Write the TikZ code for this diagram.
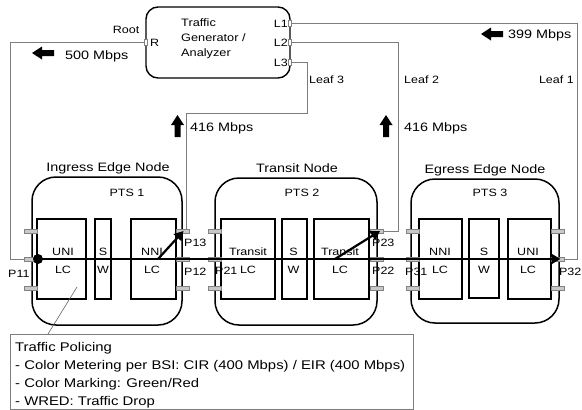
\documentclass[tikz,border=0pt]{standalone}
\usepackage{fontspec}
\setmainfont{Liberation Sans}[FakeStretch=1.18]
\usetikzlibrary{arrows.meta,calc}
\definecolor{linegray}{RGB}{125,125,125}
\definecolor{portfill}{RGB}{200,200,200}
\definecolor{portdraw}{RGB}{130,130,130}
\begin{document}
\begin{tikzpicture}[x=1pt,y=-1pt,
  bigtxt/.style={font=\fontsize{12.2}{14}\selectfont, inner sep=0},
  smalltxt/.style={font=\fontsize{10.6}{12.5}\selectfont, inner sep=0},
  genbox/.style={draw, line width=1.4pt, rounded corners=12pt, minimum width=144pt, minimum height=71pt, inner sep=0},
  ptsbox/.style={draw, line width=1.5pt, rounded corners=24pt, inner sep=0},
  lcbox/.style={draw, line width=1.3pt, minimum height=80pt, inner sep=0},
  port/.style={draw=portdraw, fill=portfill, line width=0.6pt, minimum width=13pt, minimum height=4pt, inner sep=0},
  gport/.style={draw=portdraw, fill=white, line width=0.6pt, minimum width=3.5pt, minimum height=6pt, inner sep=0},
  conn/.style={draw=linegray, line width=0.8pt},
  flow/.style={line width=2.2pt, -{Triangle[length=9pt,width=10pt]}},
  blockarr/.pic={\fill (0,-3) -- (12,-3) -- (12,-6.5) -- (22,0) -- (12,6.5) -- (12,3) -- (0,3) -- cycle;}
]
\useasboundingbox (0,0) rectangle (582,410);
\fill[white] (0,0) rectangle (582,410);

% Traffic generator / analyzer
\node[genbox] (gen) at (218,42.5) {};
\node[smalltxt, anchor=base west, align=left, font=\fontsize{10.8}{15}\selectfont] (gentxt) at (181,56.7) {Traffic\\Generator /\\Analyzer};
\node[smalltxt, anchor=base west] (gRlab) at (150,46) {R};
\node[smalltxt, anchor=base east] (gL1lab) at (288,27.3) {L1};
\node[smalltxt, anchor=base east] (gL2lab) at (288,46.7) {L2};
\node[smalltxt, anchor=base east] (gL3lab) at (288,66.7) {L3};
\node[smalltxt, anchor=base east] (rootlab) at (139.5,33.5) {Root};
\node[gport] (gR) at (146,42) {};
\node[gport] (gL1) at (290,23) {};
\node[gport] (gL2) at (290,42) {};
\node[gport] (gL3) at (290,62) {};

% PTS nodes
\node[ptsbox, minimum width=150pt, minimum height=148pt] (ing) at (107,251) {};
\node[ptsbox, minimum width=162pt, minimum height=147pt] (tra) at (296,251.5) {};
\node[ptsbox, minimum width=148pt, minimum height=144pt] (egr) at (485,251) {};

\node[bigtxt, anchor=base] (ingtitle) at (108,171) {Ingress Edge Node};
\node[bigtxt, anchor=base] (tratitle) at (297,172) {Transit Node};
\node[bigtxt, anchor=base] (egrtitle) at (485,173) {Egress Edge Node};
\node[smalltxt, anchor=base] (pts1) at (127,196) {PTS 1};
\node[smalltxt, anchor=base] (pts2) at (302,196) {PTS 2};
\node[smalltxt, anchor=base] (pts3) at (490,196) {PTS 3};

% line cards and switches
\node[lcbox, minimum width=49pt] (iUNI) at (61.5,259) {};
\node[lcbox, minimum width=16pt] (iSW) at (103,259) {};
\node[lcbox, minimum width=45pt] (iNNI) at (153.5,259) {};
\node[lcbox, minimum width=54pt] (tLC1) at (248,259) {};
\node[lcbox, minimum width=25pt] (tSW) at (294.5,259) {};
\node[lcbox, minimum width=55pt] (tLC2) at (341.5,259) {};
\node[lcbox, minimum width=43pt] (eNNI) at (440.5,259) {};
\node[lcbox, minimum width=30pt, minimum height=79pt] (eSW) at (484,258.5) {};
\node[lcbox, minimum width=43pt] (eUNI) at (529.5,259) {};

\node[smalltxt, anchor=base] (iUNIa) at (63,255) {UNI};
\node[smalltxt, anchor=base] (iUNIb) at (63,273) {LC};
\node[smalltxt, anchor=base] (iSWa) at (103,255) {S};
\node[smalltxt, anchor=base] (iSWb) at (103,273) {W};
\node[smalltxt, anchor=base] (iNNIa) at (152,255) {NNI};
\node[smalltxt, anchor=base] (iNNIb) at (152,273) {LC};
\node[smalltxt, anchor=base] (tLC1a) at (248,255) {Transit};
\node[smalltxt, anchor=base] (tLC1b) at (248,273) {LC};
\node[smalltxt, anchor=base] (tSWa) at (293.5,255) {S};
\node[smalltxt, anchor=base] (tSWb) at (293.5,273) {W};
\node[smalltxt, anchor=base] (tLC2a) at (340,255) {Transit};
\node[smalltxt, anchor=base] (tLC2b) at (340,273) {LC};
\node[smalltxt, anchor=base] (eNNIa) at (440,255) {NNI};
\node[smalltxt, anchor=base] (eNNIb) at (440,273) {LC};
\node[smalltxt, anchor=base] (eSWa) at (484,255) {S};
\node[smalltxt, anchor=base] (eSWb) at (484,273) {W};
\node[smalltxt, anchor=base] (eUNIa) at (528,255) {UNI};
\node[smalltxt, anchor=base] (eUNIb) at (528,273) {LC};

% ports
\node[port] (pi1) at (31,231) {};
\node[port] (p11) at (31,259) {};
\node[port] (pi2) at (31,288) {};
\node[port] (p13) at (182.5,231) {};
\node[port] (p12) at (182.5,259) {};
\node[port] (pi3) at (182.5,288) {};
\node[port] (pt1) at (214.5,231) {};
\node[port] (p21) at (214.5,259) {};
\node[port] (pt2) at (214.5,288) {};
\node[port] (p23) at (377,231) {};
\node[port] (p22) at (377,259) {};
\node[port] (pt3) at (377,288) {};
\node[port] (pe1) at (413,231) {};
\node[port] (p31) at (413,259) {};
\node[port] (pe2) at (413,288) {};
\node[port] (pe3) at (557.5,231) {};
\node[port] (p32) at (557.5,259) {};
\node[port] (pe4) at (557.5,288) {};

% port labels
\node[smalltxt, anchor=base west] (lp11) at (8,277.5) {P11};
\node[smalltxt, anchor=base west] (lp13) at (184,246.7) {P13};
\node[smalltxt, anchor=base west] (lp12) at (184,275) {P12};
\node[smalltxt, anchor=base west] (lp21) at (215,274.5) {P21};
\node[smalltxt, anchor=base west] (lp23) at (372,246.7) {P23};
\node[smalltxt, anchor=base west] (lp22) at (372,274.5) {P22};
\node[smalltxt, anchor=base west] (lp31) at (405,275) {P31};
\node[smalltxt, anchor=base east] (lp32) at (581.5,275) {P32};

% connectors to the tester
\coordinate (cR) at (10,42);
\draw[conn] (gR.west) -- (cR) |- (p11.west);
\coordinate (c3a) at (307,113);
\coordinate (c3b) at (186,113);
\draw[conn] (gL3.east) -| (c3a) -- (c3b) -- (p13.north -| c3b);
\coordinate (c2) at (398,0);
\draw[conn] (gL2.east) -| (c2 |- p23.east) -- (p23.east);
\coordinate (c1) at (577,0);
\draw[conn] (gL1.east) -| (c1 |- p32.east) -- (p32.east);

\node[smalltxt, anchor=base west] (leaf3) at (309,83) {Leaf 3};
\node[smalltxt, anchor=base west] (leaf2) at (404,83.5) {Leaf 2};
\node[smalltxt, anchor=base east] (leaf1) at (574,83) {Leaf 1};

% rates
\pic[rotate=180] at (54,53) {blockarr};
\node[bigtxt, anchor=base west] (r500) at (65,59) {500 Mbps};
\pic[rotate=180] at (503,34) {blockarr};
\node[bigtxt, anchor=base west] (r399) at (508,38.5) {399 Mbps};
\pic[rotate=90] at (177.5,137) {blockarr};
\node[bigtxt, anchor=base west] (r416a) at (190,131.5) {416 Mbps};
\pic[rotate=90] at (386,137) {blockarr};
\node[bigtxt, anchor=base west] (r416b) at (404,131.5) {416 Mbps};

% traffic flow
\node[circle, fill=black, minimum size=10pt, inner sep=0] (src) at (38,259) {};
\draw[flow] (src.center) -- ($(p32.center)+(3,0)$);
\coordinate (a1) at (158,259);
\draw[flow] (a1) -- ($(p13.center)+(1,0)$);
\coordinate (a2) at (335,259);
\draw[flow] (a2) -- ($(p23.center)+(3,0)$);

% policing note
\node[draw=linegray, line width=0.8pt, anchor=north west, minimum width=403pt, minimum height=75pt, inner sep=0] (pol) at (10,334) {};
\node[anchor=base west, align=left, inner sep=0, font=\fontsize{12.6}{18}\selectfont] (poltxt) at (15,405) {Traffic Policing\\- Color Metering per BSI: CIR (400 Mbps) / EIR (400 Mbps)\\- Color Marking: Green/Red\\- WRED: Traffic Drop};
\coordinate (polpt) at (77,287);
\draw[draw=linegray!80!black, line width=0.6pt] (polpt) -- ($(pol.north west)+(38,0)$);
\end{tikzpicture}
\end{document}
